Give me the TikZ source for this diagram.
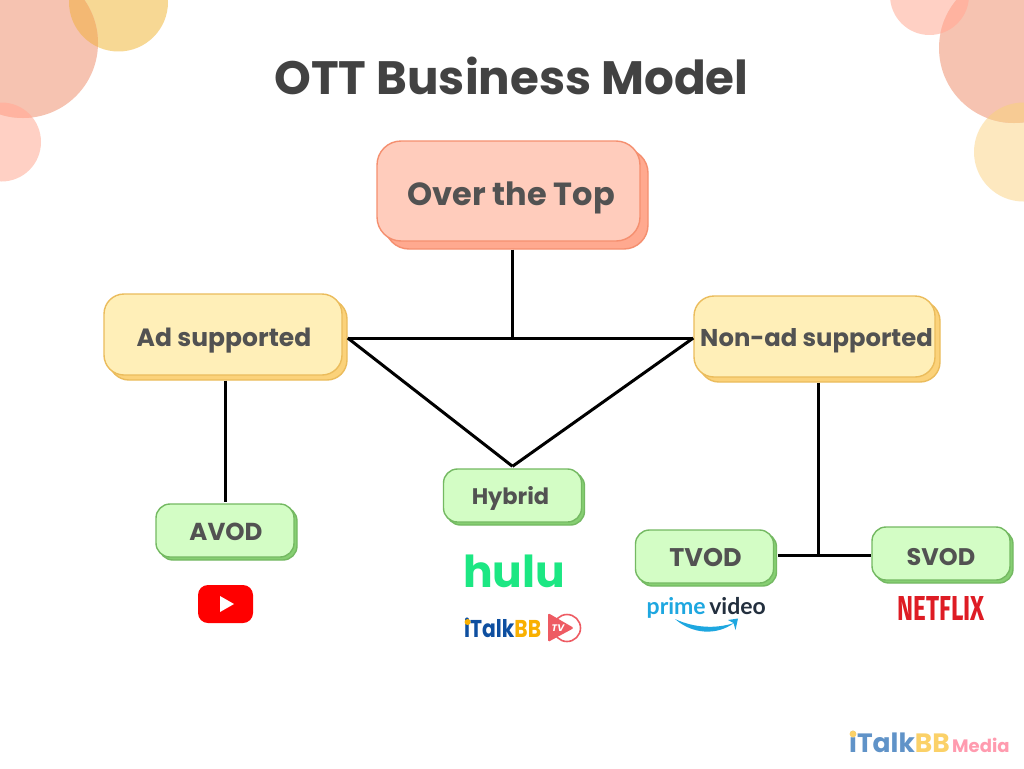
\documentclass[tikz,border=0pt]{standalone}
\usepackage{fontspec}
\setmainfont{Poppins}
\newfontfamily\primefont{Lato}
\newfontfamily\flixfont{Fira Sans}
\usetikzlibrary{shadows}
\definecolor{ink}{HTML}{525252}
\definecolor{titleink}{HTML}{424242}
\definecolor{topline}{HTML}{F58F6F}\definecolor{topfill}{HTML}{FFCCBC}\definecolor{topshade}{HTML}{FFA98F}
\definecolor{midline}{HTML}{EBBC5C}\definecolor{midfill}{HTML}{FFEFB8}\definecolor{midshade}{HTML}{FBD27A}
\definecolor{leafline}{HTML}{74B962}\definecolor{leaffill}{HTML}{D3FDC5}\definecolor{leafshade}{HTML}{86CF72}
\definecolor{b1}{HTML}{F6C3B1}\definecolor{b2}{HTML}{FFD0C4}\definecolor{b3}{HTML}{F7D894}
\definecolor{b4}{HTML}{FDE8BF}\definecolor{b5}{HTML}{F3B873}\definecolor{b6}{HTML}{FFB3A0}\definecolor{b7}{HTML}{F7CB94}
\definecolor{ib}{HTML}{0E4FA0}\definecolor{iy}{HTML}{F9B000}\definecolor{ir}{HTML}{EE5B63}
\definecolor{huluc}{HTML}{1CE783}\definecolor{primec}{HTML}{1EA7E0}\definecolor{videoc}{HTML}{232F3E}
\definecolor{flixc}{HTML}{DE1C24}\definecolor{wmb}{HTML}{6093C8}\definecolor{wmy}{HTML}{FBD168}\definecolor{wmp}{HTML}{FF9BAF}
\newcommand{\lowered}[2]{\raisebox{-#1pt}[\height][\depth]{#2}}
\tikzset{
  x=1pt,y=-1pt,
  box/.style={rounded corners=#1,inner sep=0pt,line width=1.4pt,text=ink},
  topbox/.style={box=24pt,draw=topline,fill=topfill,minimum width=263pt,minimum height=100pt,
    general shadow={fill=topshade,draw=topline,shadow xshift=8pt,shadow yshift=-8pt},font=\fontsize{32}{36}\selectfont\bfseries},
  midbox/.style={box=20pt,draw=midline,fill=midfill,minimum height=81pt,
    general shadow={fill=midshade,draw=midline,shadow xshift=5pt,shadow yshift=-5pt}},
  leaf/.style={box=14pt,draw=leafline,fill=leaffill,minimum width=138pt,minimum height=53pt,
    general shadow={fill=leafshade,draw=leafline,shadow xshift=3pt,shadow yshift=-3pt}},
  link/.style={line width=3pt,draw=black},
  logo/.style={inner sep=0pt},
}
\begin{document}
\begin{tikzpicture}
\useasboundingbox (0,0) rectangle (1024,768);
\fill[white] (0,0) rectangle (1024,768);
% corner bubbles, left
\fill[b3] (118.5,2) circle (49.5);
\fill[b2] (1.5,142) circle (39.5);
\fill[b1] (23,43) circle (75);
\begin{scope}\clip (23,43) circle (75);\fill[b5] (118.5,2) circle (49.5);\fill[b6] (1.5,142) circle (39.5);\end{scope}
% corner bubbles, right
\fill[b2] (929.5,-4.5) circle (39.5);
\fill[b4] (1023.5,152) circle (49.5);
\fill[b1] (1014,48) circle (75);
\begin{scope}\clip (1014,48) circle (75);\fill[b6] (929.5,-4.5) circle (39.5);\fill[b7] (1023.5,152) circle (49.5);\end{scope}

\node[font=\fontsize{46.8}{54}\selectfont\bfseries,text=titleink,inner sep=0pt] (title) at (511.5,76) {OTT Business Model};

\node[topbox] (over) at (508.5,191) {\hspace{5pt}\lowered{7}{Over the Top}};
\node[midbox,minimum width=238pt,font=\fontsize{25}{30}\selectfont\bfseries] (ad) at (223,334.5) {\hspace{2pt}\lowered{6}{Ad supported}};
\node[midbox,minimum width=241pt,font=\fontsize{24.3}{30}\selectfont\bfseries] (nonad) at (814.5,336.5) {\hspace{4pt}\lowered{4}{Non-ad supported}};
\node[leaf,font=\fontsize{22.5}{26}\selectfont\bfseries] (hybrid) at (512.5,495.5) {\lowered{3}{Hybrid}\hspace*{4pt}};
\node[leaf,font=\fontsize{24.5}{28}\selectfont\bfseries] (avod) at (225,530.5) {\hspace{2pt}\lowered{1}{AVOD}};
\node[leaf,font=\fontsize{25.5}{28}\selectfont\bfseries] (tvod) at (704.5,556.5) {\hspace{2pt}\lowered{1}{TVOD}};
\node[leaf,font=\fontsize{24}{28}\selectfont\bfseries] (svod) at (941,553.5) {\lowered{4}{SVOD}};

\coordinate (junction) at (512,338);
\coordinate (split) at (818.5,555.5);
\draw[link] ([shift={(3.5,8)}]over.south) -- (junction);
\draw[link] ([shift={(5,3.5)}]ad.east) -- ([shift={(0,1.5)}]nonad.west);
\draw[link] ([shift={(5,3.5)}]ad.east) -- ([yshift=2pt]hybrid.north);
\draw[link] ([shift={(0,1.5)}]nonad.west) -- ([yshift=2pt]hybrid.north);
\draw[link] ([shift={(2,5)}]ad.south) -- ([shift={(0,-1)}]avod.north);
\draw[link] ([shift={(4,5)}]nonad.south) -- (split);
\draw[link] ([shift={(4,-1)}]tvod.east) -- (split) -- ([shift={(0,2)}]svod.west);

% YouTube
\fill[red,rounded corners=10pt] (198,585) rectangle (253,623);
\fill[white] (220,596) -- (234,604) -- (220,612) -- cycle;
% hulu
\node[logo,font=\fontsize{44}{50}\selectfont\bfseries,text=huluc] (hulu) at (514,571) {hulu};
% iTalkBB TV
\node[logo,anchor=south west,font=\fontsize{20}{24}\selectfont\bfseries] (italk) at (464,638) {\resizebox{77pt}{19.5pt}{\textcolor{ib}{iTalk}\textcolor{iy}{BB}}};
\fill[iy] (467.6,622) circle (3);
\draw[ir,line width=1.6pt] (567,628) circle (13.5);
\fill[white] (546,612) rectangle (556,644);
\fill[ir,rounded corners=1.5pt] (548,613) -- (574,628) -- (548,642) -- cycle;
\node[logo,text=white,font=\fontsize{9.5}{10}\selectfont\bfseries\itshape] (tvmark) at (558,628) {TV};
% prime video
\node[logo,anchor=base west,font=\fontsize{23}{28}\selectfont\primefont\bfseries,text=primec] (prime) at (646.5,614) {prime};
\node[logo,anchor=base east,font=\fontsize{23}{28}\selectfont\primefont\bfseries,text=videoc] (video) at (766,614) {video};
\fill[primec] (675,619) .. controls (692,634) and (716,636) .. (734,623) .. controls (716,629) and (694,628) .. (675,619) -- cycle;
\fill[primec] (728,620) -- (738,618.5) -- (735.5,630) -- (733.5,623) -- cycle;
% Netflix
\node[logo,text=flixc] (netflix) at (941,608) {\resizebox{87pt}{24pt}{\flixfont\bfseries NETFLIX}};
% watermark
\node[logo,anchor=base west,font=\fontsize{26.5}{32}\selectfont\bfseries] (wm) at (849,752) {\textcolor{wmb}{iTalk}\textcolor{wmy}{BB}};
\fill[wmy] (853,734) circle (3.4);
\node[logo,anchor=base west,font=\fontsize{18}{22}\selectfont\bfseries,text=wmp] (wmm) at (952,752) {Media};
\end{tikzpicture}
\end{document}
